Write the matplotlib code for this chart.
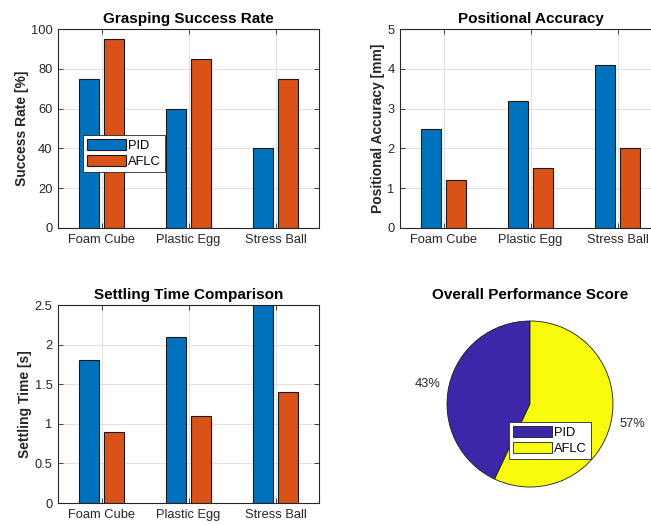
import matplotlib
matplotlib.use("Agg")
import matplotlib.pyplot as plt
import numpy as np

plt.rcParams['font.family'] = ['Liberation Sans', 'DejaVu Sans']

objects = ['Foam Cube', 'Plastic Egg', 'Stress Ball']
controllers = ['PID', 'AFLC']
success_pid = [75, 60, 40]
success_aflc = [95, 85, 75]
accuracy_pid = [2.5, 3.2, 4.1]
accuracy_aflc = [1.2, 1.5, 2.0]
settling_pid = [1.8, 2.1, 2.5]
settling_aflc = [0.9, 1.1, 1.4]
overall_score = [43, 57]

c_pid = '#0072BD'
c_aflc = '#D95319'
pie_colors = ['#3E26A8', '#F9FB0E']
txt = '#262626'

W, H = 651, 525
fig = plt.figure(figsize=(W / 100, H / 100), dpi=100)


def box(l, t, w, h):
    return [l / W, 1 - (t + h) / H, w / W, h / H]


def bar_axes(rect, pid, aflc, ylim, yticks, yticklabels, ylabel, title):
    ax = fig.add_axes(rect)
    x = np.arange(1, len(objects) + 1)
    off, bw = 0.143, 0.24
    ax.bar(x - off, pid, bw, color=c_pid, edgecolor='#1a1a1a', linewidth=0.8,
           label=controllers[0], zorder=3)
    ax.bar(x + off, aflc, bw, color=c_aflc, edgecolor='#1a1a1a', linewidth=0.8,
           label=controllers[1], zorder=3)
    ax.set_xlim(0.5, 3.5)
    ax.set_ylim(*ylim)
    ax.set_xticks(x)
    ax.set_xticklabels(objects, fontsize=9.3, color=txt)
    ax.set_yticks(yticks)
    ax.set_yticklabels(yticklabels, fontsize=9.3, color=txt)
    ax.set_ylabel(ylabel, fontsize=10, fontweight='bold', color=txt, labelpad=1.5)
    ax.set_title(title, fontsize=11, fontweight='bold', color='#000000', pad=4.5)
    ax.grid(True, color='#e2e2e2', linewidth=0.8, zorder=0)
    ax.tick_params(direction='in', length=3.5, width=0.6, top=True, right=True,
                   colors='#262626', pad=4)
    for s in ax.spines.values():
        s.set_linewidth(0.8)
        s.set_color('#262626')
        s.set_zorder(4)
    return ax


ax1 = bar_axes(box(58, 29, 261, 199), success_pid, success_aflc, (0, 100),
               np.arange(0, 101, 20), [str(v) for v in range(0, 101, 20)],
               'Success Rate [%]', 'Grasping Success Rate')
leg1 = ax1.legend(loc='upper left', bbox_to_anchor=(83 / W, 1 - 135 / H),
                  bbox_transform=fig.transFigure, fontsize=9.3, frameon=True,
                  fancybox=False, edgecolor='#262626', framealpha=1,
                  handlelength=3.0, handleheight=0.9, handletextpad=0.2,
                  borderpad=0.3, labelspacing=0.25, borderaxespad=0)
leg1.get_frame().set_linewidth(0.6)

bar_axes(box(400, 29, 261, 199), accuracy_pid, accuracy_aflc, (0, 5),
         np.arange(0, 6, 1), [str(v) for v in range(0, 6)],
         'Positional Accuracy [mm]', 'Positional Accuracy')

bar_axes(box(58, 305, 261, 198), settling_pid, settling_aflc, (0, 2.5),
         np.arange(0, 2.51, 0.5), ['0', '0.5', '1', '1.5', '2', '2.5'],
         'Settling Time [s]', 'Settling Time Comparison')

# Pie of the overall score
ax4 = fig.add_axes(box(431, 305, 198, 198))
total = sum(overall_score)
pct_labels = [f'{v / total * 100:.0f}%' for v in overall_score]
wedges, texts = ax4.pie(overall_score, colors=pie_colors, labels=pct_labels,
                        startangle=90, counterclock=True, labeldistance=1.1,
                        wedgeprops=dict(edgecolor='#1a1a1a', linewidth=0.6),
                        textprops=dict(fontsize=9.3, color=txt))
lim = 99 / 83
ax4.set_xlim(-lim, lim)
ax4.set_ylim(-lim, lim)
ax4.set_aspect('equal')
ax4.set_title('Overall Performance Score', fontsize=11, fontweight='bold',
              color='#000000', pad=4.5)
leg4 = ax4.legend(wedges, controllers, loc='upper left',
                  bbox_to_anchor=(509 / W, 1 - 422 / H),
                  bbox_transform=fig.transFigure, fontsize=9.3, frameon=True,
                  fancybox=False, edgecolor='#262626', framealpha=1,
                  handlelength=3.0, handleheight=0.9, handletextpad=0.2,
                  borderpad=0.3, labelspacing=0.25, borderaxespad=0)
leg4.get_frame().set_linewidth(0.6)

fig.savefig('out.png', dpi=100)
